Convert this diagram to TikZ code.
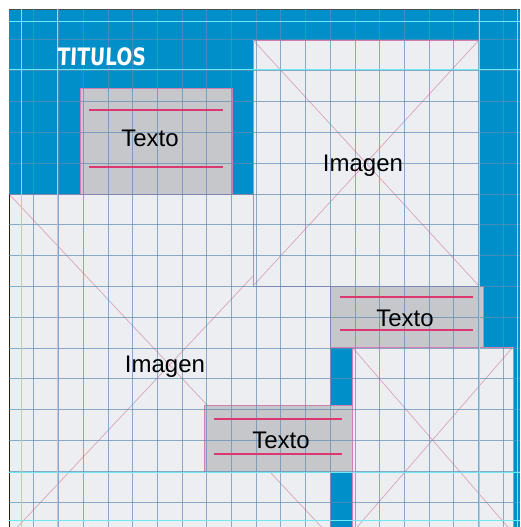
\documentclass[tikz,border=0pt]{standalone}
\usepackage{fontspec}
\usepackage{graphicx}
\setmainfont{Liberation Sans}
\newfontfamily\titfont{DejaVu Sans}[FakeSlant=0.06]
\definecolor{fondo}{RGB}{0,143,200}
\definecolor{imgfill}{RGB}{236,238,242}
\definecolor{txtfill}{RGB}{197,199,203}
\definecolor{borde}{RGB}{212,125,175}
\definecolor{linea}{RGB}{220,55,110}
\definecolor{diag}{RGB}{218,165,185}
\definecolor{rejilla}{RGB}{95,140,180}
\definecolor{guia}{RGB}{110,232,242}
\tikzset{
  imgbox/.style={fill=imgfill,draw=borde,line width=0.7pt},
  txtbox/.style={fill=txtfill,draw=borde,line width=0.8pt},
  cruz/.style={draw=diag,line width=0.7pt},
  raya/.style={draw=linea,line width=1.1pt},
  etiqueta/.style={anchor=base,inner sep=0pt,font=\fontsize{24}{28}\selectfont},
}
\begin{document}
\begin{tikzpicture}[x=1pt,y=-1pt]
            \useasboundingbox (0,0) rectangle (520,527);
            \clip (0,0) rectangle (520,527);
            % fondo
            \fill[white] (0,0) rectangle (520,527);
            \fill[fondo] (9,9) rectangle (520,527);
            \draw[black!70,line width=0.8pt] (9,9) -- (520,9);
            % define corners
            \coordinate (I2a) at (9,194);   \coordinate (I2b) at (330,536);
            \coordinate (I1a) at (253,40);  \coordinate (I1b) at (479,286);
            \coordinate (I3a) at (352,347); \coordinate (I3b) at (513,533);
            \coordinate (T1a) at (80,88);   \coordinate (T1b) at (232,194);
            \coordinate (T2a) at (330,286); \coordinate (T2b) at (483,347);
            \coordinate (T3a) at (204,405); \coordinate (T3b) at (352,472);
            % imagenes
            \draw[imgbox] (I2a) rectangle (I2b);
            \draw[cruz] (I2a) -- (I2b) (I2a |- I2b) -- (I2b |- I2a);
            \draw[black!60!red,line width=0.9pt] (I2a) -- (I2a |- I2b);
            \draw[imgbox] (I1a) rectangle (I1b);
            \draw[cruz] (I1a) -- (I1b) (I1a |- I1b) -- (I1b |- I1a);
            \draw[imgbox] (I3a) rectangle (I3b);
            \draw[cruz] (I3a) -- (I3b) (I3a |- I3b) -- (I3b |- I3a);
            % cajas de texto
            \draw[txtbox] (T1a) rectangle (T1b);
            \draw[txtbox] (T2a) rectangle (T2b);
            \draw[txtbox] (T3a) rectangle (T3b);
            % rejilla
            \foreach \i in {1,...,20}
              \draw[rejilla,opacity=0.7,line width=0.6pt] (9+24.7*\i,9) -- (9+24.7*\i,527);
            \foreach \j in {1,...,16}
              \draw[rejilla,opacity=0.7,line width=0.6pt] (9,9+30.8*\j) -- (520,9+30.8*\j);
            % rayas de texto
            \draw[raya] (89,110) -- (223,110) (89,167) -- (223,167);
            \draw[raya] (340,297) -- (473,297) (340,330) -- (473,330);
            \draw[raya] (214,419) -- (342,419) (214,454) -- (342,454);
            % guias
            \foreach \x in {21,57,479,517}
              \draw[guia,line width=0.9pt] (\x,9) -- (\x,527);
            \foreach \y in {21,69,472,520}
              \draw[guia,line width=0.9pt] (9,\y) -- (520,\y);
            % textos
            \node[anchor=base west,inner sep=0pt,text=white] (titulo) at (57,66)
              {\scalebox{0.78}[1]{\titfont\bfseries\fontsize{24}{28}\selectfont TITULOS}};
            \node[etiqueta] (texto1) at (150,146) {Texto};
            \node[etiqueta] (imagen1) at (363,171) {Imagen};
            \node[etiqueta] (texto2) at (405,326) {Texto};
            \node[etiqueta] (imagen2) at (165,372) {Imagen};
            \node[etiqueta] (texto3) at (281,448) {Texto};
        \end{tikzpicture}
\end{document}
